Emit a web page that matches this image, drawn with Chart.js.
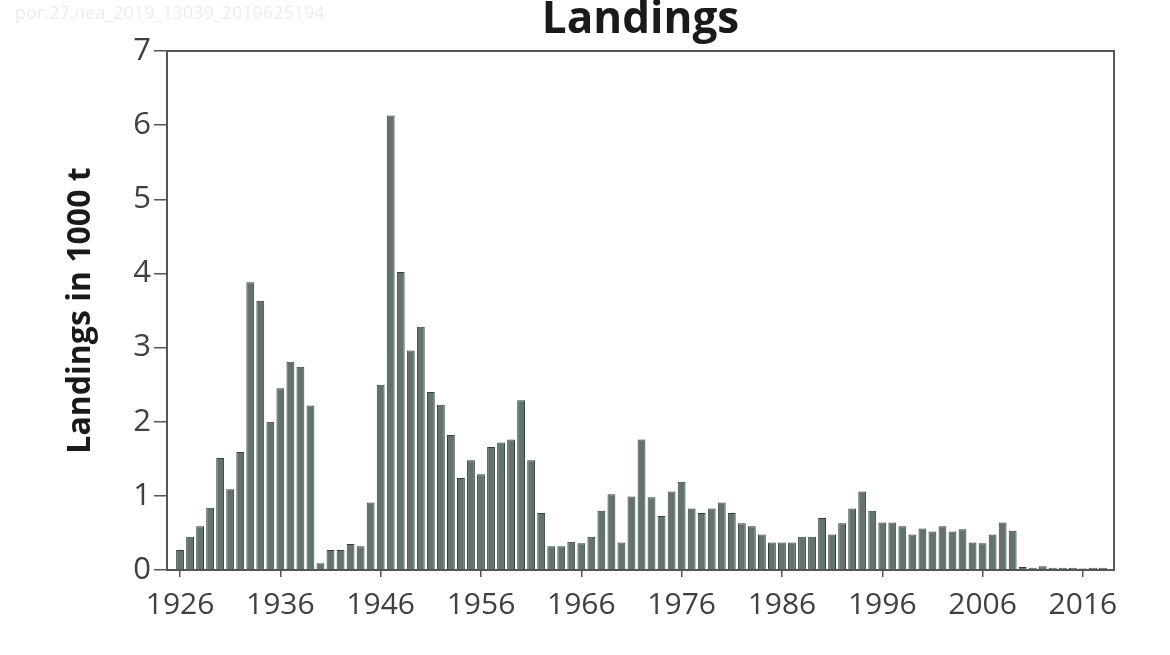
<!DOCTYPE html>
<html>
<head>
<meta charset="utf-8">
<title>Landings</title>
<script src="https://cdn.jsdelivr.net/npm/chart.js@4.4.1/dist/chart.umd.min.js"></script>
<style>
    html, body { margin: 0; padding: 0; background: #fff; }
    #wrap { width: 1170px; height: 655px; position: relative; }
</style>
</head>
<body>
<div id="wrap"><canvas id="landingsChart"></canvas></div>
<script>
// Landings per year, in 1000 t
const years = [
    1926, 1927, 1928, 1929, 1930, 1931, 1932, 1933, 1934, 1935,
    1936, 1937, 1938, 1939, 1940, 1941, 1942, 1943, 1944, 1945,
    1946, 1947, 1948, 1949, 1950, 1951, 1952, 1953, 1954, 1955,
    1956, 1957, 1958, 1959, 1960, 1961, 1962, 1963, 1964, 1965,
    1966, 1967, 1968, 1969, 1970, 1971, 1972, 1973, 1974, 1975,
    1976, 1977, 1978, 1979, 1980, 1981, 1982, 1983, 1984, 1985,
    1986, 1987, 1988, 1989, 1990, 1991, 1992, 1993, 1994, 1995,
    1996, 1997, 1998, 1999, 2000, 2001, 2002, 2003, 2004, 2005,
    2006, 2007, 2008, 2009, 2010, 2011, 2012, 2013, 2014, 2015,
    2016, 2017, 2018
];

const landings = [
    0.27, 0.45, 0.59, 0.84, 1.51, 1.09, 1.59, 3.88, 3.63, 2.00,
    2.45, 2.81, 2.74, 2.22, 0.09, 0.27, 0.27, 0.35, 0.32, 0.91,
    2.50, 6.13, 4.02, 2.96, 3.28, 2.40, 2.23, 1.82, 1.24, 1.48,
    1.29, 1.66, 1.72, 1.76, 2.29, 1.48, 0.77, 0.32, 0.32, 0.38,
    0.36, 0.45, 0.80, 1.02, 0.37, 0.99, 1.76, 0.98, 0.73, 1.06,
    1.19, 0.83, 0.77, 0.83, 0.91, 0.77, 0.63, 0.59, 0.48, 0.37,
    0.37, 0.37, 0.45, 0.45, 0.70, 0.48, 0.63, 0.83, 1.06, 0.80,
    0.64, 0.64, 0.59, 0.48, 0.56, 0.52, 0.59, 0.52, 0.55, 0.37,
    0.36, 0.48, 0.64, 0.53, 0.04, 0.03, 0.05, 0.03, 0.03, 0.03,
    0.02, 0.03, 0.03
];

const xTickYears = [1926, 1936, 1946, 1956, 1966, 1976, 1986, 1996, 2006, 2016];
const yTicks = [0, 1, 2, 3, 4, 5, 6, 7];

const FONT = "'Open Sans', 'DejaVu Sans', sans-serif";
const AXIS_COLOR = '#555';

// White background, faint file tag, title over the plot and the box round it
const framePlugin = {
    id: 'frame',
    beforeDraw(chart) {
        const ctx = chart.ctx;
        ctx.save();
        ctx.fillStyle = '#fff';
        ctx.fillRect(0, 0, chart.width, chart.height);
        ctx.fillStyle = '#eaecf0';
        ctx.font = "18px " + FONT;
        ctx.textBaseline = 'middle';
        ctx.fillText('por.27.nea_2019_13039_2019625194', 15, 14);
        ctx.restore();
    },
    afterDraw(chart) {
        const a = chart.chartArea;
        const ctx = chart.ctx;
        ctx.save();
        ctx.strokeStyle = AXIS_COLOR;
        ctx.lineWidth = 2;
        ctx.strokeRect(a.left, a.top, a.right - a.left, a.bottom - a.top);

        ctx.fillStyle = '#1a1a1a';
        ctx.font = "bold 44px " + FONT;
        ctx.textAlign = 'center';
        ctx.textBaseline = 'alphabetic';
        ctx.fillText('Landings', (a.left + a.right) / 2, 33);
        ctx.restore();
    }
};

const canvas = document.getElementById('landingsChart');

new Chart(canvas, {
    type: 'bar',
    data: {
        datasets: [{
            label: 'Landings',
            data: years.map((yr, i) => ({ x: yr, y: landings[i] })),
            backgroundColor: '#64726c',
            borderColor: '#2f4239',
            borderWidth: 1,
            barPercentage: 0.78,
            categoryPercentage: 1
        }]
    },
    options: {
        responsive: true,
        maintainAspectRatio: false,
        animation: false,
        layout: { padding: { left: 0, right: 56, top: 51, bottom: 0 } },
        plugins: {
            legend: { display: false },
            tooltip: { enabled: false },
            title: { display: false }
        },
        scales: {
            x: {
                type: 'linear',
                min: 1924.7,
                max: 2019.1,
                offset: false,
                afterBuildTicks: function(axis) {
                    axis.ticks = xTickYears.map(v => ({ value: v }));
                },
                afterFit: function(axis) {
                    axis.height = 85;
                },
                ticks: {
                    color: '#404040',
                    font: { family: FONT, size: 30 },
                    padding: 10,
                    maxRotation: 0,
                    autoSkip: false,
                    callback: v => String(v)
                },
                grid: {
                    offset: false,
                    drawOnChartArea: false,
                    drawTicks: true,
                    tickLength: 7,
                    color: AXIS_COLOR,
                    lineWidth: 1.5
                },
                border: { display: true, color: AXIS_COLOR, width: 2 }
            },
            y: {
                min: 0,
                max: 7,
                afterBuildTicks: function(axis) {
                    axis.ticks = yTicks.map(v => ({ value: v }));
                },
                afterFit: function(axis) {
                    axis.width = 167;
                },
                ticks: {
                    color: '#404040',
                    font: { family: FONT, size: 31 },
                    padding: 3
                },
                grid: {
                    drawOnChartArea: false,
                    drawTicks: true,
                    tickLength: 13,
                    color: AXIS_COLOR,
                    lineWidth: 1.5
                },
                border: { display: true, color: AXIS_COLOR, width: 2 },
                title: {
                    display: true,
                    text: 'Landings in 1000 t',
                    color: '#1a1a1a',
                    font: { family: FONT, size: 32, weight: 'bold' },
                    padding: { top: 62, bottom: 0 }
                }
            }
        }
    },
    plugins: [framePlugin]
});
</script>
</body>
</html>
